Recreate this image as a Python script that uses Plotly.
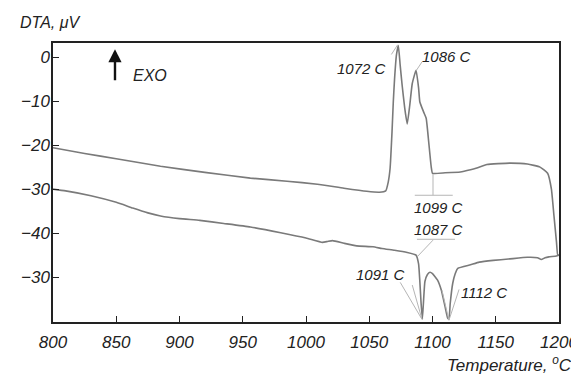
import plotly.graph_objects as go

# Heating / lower DTA curve (temperature °C, signal µV on the plotted scale)
T_low = [800, 810, 830, 850, 863, 875, 885, 900, 916, 935, 956, 980, 1000, 1013, 1017, 1021,
         1030, 1040, 1053, 1060, 1070, 1080, 1087, 1089, 1090, 1091, 1092, 1093, 1094, 1096,
         1098, 1100, 1104, 1107, 1110, 1112, 1113, 1114, 1116, 1118, 1120, 1130, 1137, 1148,
         1160, 1175, 1183, 1186, 1189, 1192, 1198, 1200]
v_low = [-30.0, -30.4, -31.5, -33.0, -34.3, -35.4, -36.1, -36.7, -37.1, -37.8, -38.6, -39.9, -41.1, -42.1, -41.9, -41.7,
         -42.3, -42.9, -43.1, -43.5, -43.9, -44.4, -45.0, -47.0, -51.0, -56.0, -59.5, -55.0, -51.0, -49.4,
         -48.9, -49.2, -50.7, -53.0, -56.8, -59.3, -59.5, -56.0, -51.4, -49.2, -48.0, -47.2, -46.6, -46.2,
         -45.9, -45.5, -45.6, -46.0, -45.6, -45.4, -45.2, -45.0]

# Cooling / upper DTA curve
T_up = [800, 825, 850, 885, 920, 956, 985, 1009, 1030, 1048, 1058, 1063, 1065, 1066.5, 1068, 1069,
        1070, 1071.5, 1073, 1074.5, 1076, 1078, 1080, 1082, 1084, 1087, 1089, 1090, 1093, 1095,
        1097, 1099, 1100, 1110, 1122, 1130, 1135, 1143, 1161, 1175, 1185, 1191, 1194, 1196,
        1198, 1199, 1200]
v_up = [-20.6, -21.9, -23.1, -24.8, -26.2, -27.5, -28.2, -28.9, -29.8, -30.5, -30.7, -30.4, -28.4, -25.2, -17.0, -10.2,
        -5.0, 0.5, 2.6, -2.0, -6.4, -11.5, -15.2, -11.0, -6.0, -3.0, -7.0, -10.2, -12.5, -13.9,
        -19.3, -25.0, -26.4, -26.3, -26.1, -25.6, -25.2, -24.4, -24.1, -24.3, -25.0, -26.4, -30.0, -36.0,
        -42.0, -45.0, -45.0]

y_tickvals = [0, -10, -20, -30, -40, -50]
y_ticktext = ["0", "\u221210", "\u221220", "\u221230", "\u221240", "\u221230"]
x_tickvals = [800, 850, 900, 950, 1000, 1050, 1100, 1150, 1200]

# Peak labels: (text, x, y)
peak_labels = [
    ("1072 C", 1043.5, -2.5),
    ("1086 C", 1110.7, 0.2),
    ("1099 C", 1105.0, -34.2),
    ("1087 C", 1105.0, -39.1),
    ("1091 C", 1059.0, -49.5),
    ("1112 C", 1140.5, -53.4),
]
# Leader lines: (x0, y0, x1, y1)
leaders = [
    (1067.5, 0.6, 1072.5, 2.8),
    (1091.7, -1.1, 1087.3, -3.0),
    (1100.4, -26.6, 1100.4, -31.4),
    (1086.0, -31.4, 1116.0, -31.4),
    (1087.7, -41.4, 1117.8, -41.4),
    (1100.4, -41.6, 1088.5, -45.2),
    (1074.5, -51.2, 1091.7, -59.6),
    (1084.0, -51.8, 1091.7, -59.6),
    (1107.5, -53.0, 1113.0, -59.8),
    (1121.0, -52.8, 1113.0, -59.8),
]

line_col = "#7a7a7a"
font_fam = "Liberation Sans, Arial, sans-serif"
txt_col = "#222"

fig = go.Figure()
fig.add_trace(go.Scatter(x=T_low, y=v_low, mode="lines",
                         line=dict(color=line_col, width=1.6, shape="spline", smoothing=0.4),
                         showlegend=False, hoverinfo="skip"))
fig.add_trace(go.Scatter(x=T_up, y=v_up, mode="lines",
                         line=dict(color=line_col, width=1.6, shape="spline", smoothing=0.4),
                         showlegend=False, hoverinfo="skip"))

for (x0, y0, x1, y1) in leaders:
    fig.add_shape(type="line", x0=x0, y0=y0, x1=x1, y1=y1, xref="x", yref="y",
                  line=dict(color="#b5b5b5", width=1))

for (t, x, y) in peak_labels:
    fig.add_annotation(x=x, y=y, xref="x", yref="y", text=t, showarrow=False,
                       font=dict(family=font_fam, size=15, color=txt_col, style="italic"))

# EXO arrow
fig.add_annotation(x=849, y=1.8, xref="x", yref="y", ax=849, ay=-5.6, axref="x", ayref="y",
                   text="", showarrow=True, arrowhead=2, arrowsize=1.1, arrowwidth=2.4,
                   arrowcolor="#111")
fig.add_annotation(x=877, y=-4.1, xref="x", yref="y", text="EXO", showarrow=False,
                   font=dict(family=font_fam, size=16, color=txt_col, style="italic"))

# axis titles
fig.add_annotation(x=-0.069, y=1.075, xref="paper", yref="paper", text="DTA, \u03bcV",
                   showarrow=False, xanchor="left", yanchor="middle",
                   font=dict(family=font_fam, size=16, color=txt_col, style="italic"))
fig.add_annotation(x=1.03, y=-0.152, xref="paper", yref="paper",
                   text="Temperature, <sup>o</sup>C", showarrow=False,
                   xanchor="right", yanchor="middle",
                   font=dict(family=font_fam, size=17, color=txt_col, style="italic"))

axis_common = dict(showgrid=False, zeroline=False, showline=True, linecolor="#222",
                   linewidth=1.5, mirror=True, ticks="inside", ticklen=6, tickwidth=1.2,
                   tickcolor="#222", automargin=False,
                   tickfont=dict(family=font_fam, size=17, color=txt_col, style="italic"))

fig.update_xaxes(range=[800, 1200], tickvals=x_tickvals,
                 ticktext=[str(v) for v in x_tickvals],
                 ticklabelstandoff=4, **axis_common)
fig.update_yaxes(range=[-60.2, 3.2], tickvals=y_tickvals, ticktext=y_ticktext,
                 ticklabelstandoff=-2, **axis_common)

# page body has an 8px default margin; size the figure so the plot area lands where the reference has it
fig.update_layout(width=571, height=367, margin=dict(l=45, r=20, t=35, b=53, autoexpand=False),
                  plot_bgcolor="white", paper_bgcolor="white",
                  font=dict(family=font_fam))

fig.write_html("out.html")
